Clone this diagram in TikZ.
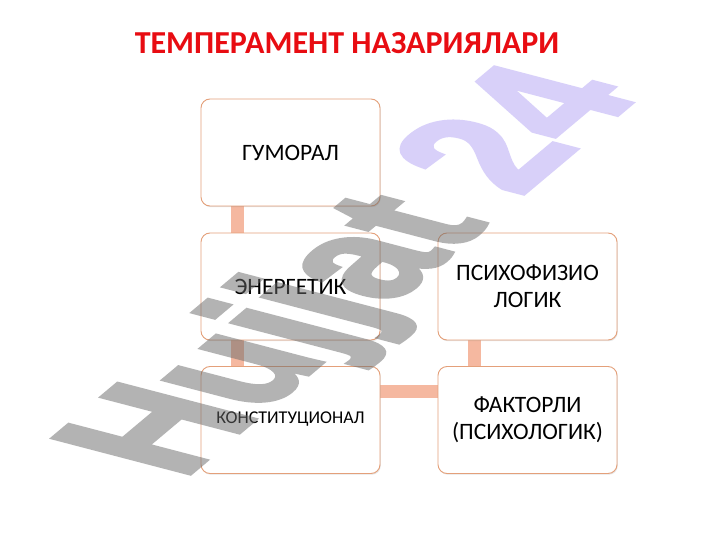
\documentclass[tikz,border=0pt]{standalone}
\usepackage{fontspec}
\setmainfont{Carlito}
\newfontfamily\wmfont{Liberation Sans}[FakeBold=3]
\usetikzlibrary{positioning,backgrounds,shadows}
\definecolor{boxline}{RGB}{228,160,122}
\definecolor{barfill}{RGB}{245,184,160}
\definecolor{titlered}{RGB}{232,12,18}
\definecolor{wmgrey}{RGB}{105,105,105}
\definecolor{wmlilac}{RGB}{178,162,245}
\tikzset{
  tbox/.style={
    rectangle, rounded corners=9pt,
    draw=boxline, line width=0.9pt, fill=white,
    drop shadow={opacity=0.2, shadow xshift=0.8pt, shadow yshift=-1.2pt},
    minimum width=179pt, minimum height=107pt,
    align=center, font=\fontsize{23.5}{27}\selectfont
  },
  tbar/.style={draw=barfill, line width=13pt}
}

\begin{document}
\begin{tikzpicture}[x=1pt,y=-1pt]
\useasboundingbox (0,0) rectangle (720,540);

% title
\node[text=titlered, font=\fontsize{32}{36}\bfseries] (title) at (347,43) {ТЕМПЕРАМЕНТ НАЗАРИЯЛАРИ};

% boxes
\node[tbox] (gum) at (290.5,152.5) {ГУМОРАЛ};
\node[tbox] (ener) at (290.5,286.5) {ЭНЕРГЕТИК};
\node[tbox, font=\fontsize{18}{21}\selectfont] (kon) at (290.5,420) {\raisebox{4pt}{КОНСТИТУЦИОНАЛ}};
\node[tbox] (psi) at (527.5,286.5) {ПСИХОФИЗИО\\ЛОГИК};
\node[tbox] (fak) at (527.5,420) {ФАКТОРЛИ\\(ПСИХОЛОГИК)};

% bars and page
\begin{scope}[on background layer]
\fill[white] (0,0) rectangle (720,540);
\draw[tbar] ([xshift=-53pt]gum.south) -- ([xshift=-53pt]ener.north);
\draw[tbar] ([xshift=-53pt]ener.south) -- ([xshift=-53pt]kon.north);
\draw[tbar] ([xshift=-53pt]psi.south) -- ([xshift=-53pt]fak.north);
\draw[tbar] ([yshift=29pt]kon.east) -- ([yshift=29pt]fak.west);
\end{scope}

% watermark
\begin{scope}[transparency group, opacity=0.5]
\begin{scope}[cm={1.103,0.926,-1.975,0.516,(182,480)}]
\node[transform shape, anchor=base west, inner sep=0pt,
  font=\wmfont\bfseries\fontsize{100}{100}\selectfont]
  (wm) at (0,0) {\textcolor{wmgrey}{Hujjat} \textcolor{wmlilac}{24}};
\end{scope}
\end{scope}

\end{tikzpicture}
\end{document}
